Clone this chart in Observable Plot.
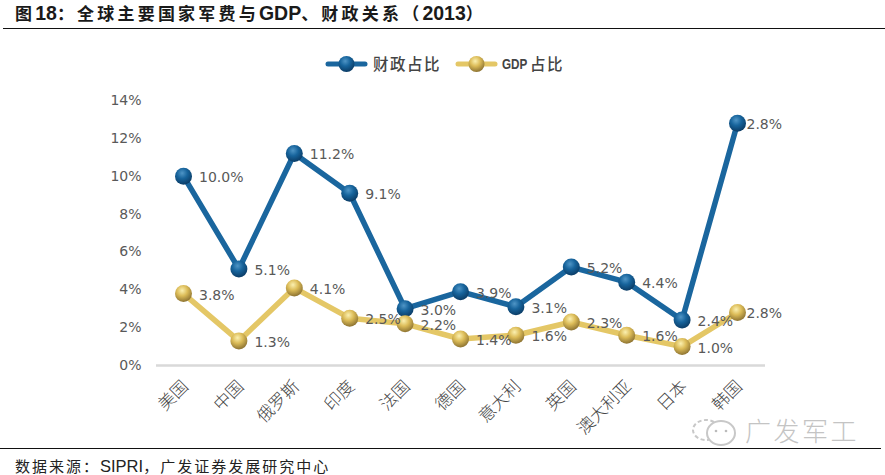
<!DOCTYPE html>
<html><head><meta charset="utf-8">
<script src="https://cdn.jsdelivr.net/npm/d3@7"></script>
<script src="https://cdn.jsdelivr.net/npm/@observablehq/plot@0.6"></script>
<style>
html,body{margin:0;padding:0;background:#fff;width:885px;height:475px;overflow:hidden;position:relative}
#title{position:absolute;left:15px;top:0;height:24px;line-height:24px;font:bold 17px "Liberation Sans","Noto Sans CJK SC";letter-spacing:3.2px;color:#1a1a1a;white-space:nowrap}
#title b{font-size:19.5px;letter-spacing:0}
#r1{position:absolute;left:3px;right:0;top:28px;border-top:1.5px solid #111}
#r2{position:absolute;left:0;width:881px;top:448px;border-top:1.5px solid #111}
#legend{position:absolute;left:0;top:29px;width:885px;height:60px}
#chart{position:absolute;left:0;top:88px}
#foot{position:absolute;left:15px;top:455px;font:15px "Liberation Sans","Noto Sans CJK SC";letter-spacing:2px;color:#222;white-space:nowrap}
#foot span{font-size:16.5px;letter-spacing:0}
#mark{position:absolute;left:0;top:0;pointer-events:none}
</style></head><body>
<svg width="0" height="0" style="position:absolute">
<defs>
<radialGradient id="ballBlue" cx="42%" cy="32%" r="70%"><stop offset="0%" stop-color="#4f95c6"/><stop offset="45%" stop-color="#17649c"/><stop offset="100%" stop-color="#0a3a63"/></radialGradient>
<radialGradient id="ballGold" cx="42%" cy="32%" r="70%"><stop offset="0%" stop-color="#fbf0b0"/><stop offset="45%" stop-color="#dcbc58"/><stop offset="100%" stop-color="#8a7030"/></radialGradient>
</defs></svg>
<div id="title">图<b>18</b>：全球主要国家军费与<b>GDP</b>、财政关系（<b>2013</b>）</div>
<div id="r1"></div>
<div id="legend"></div>
<div id="chart"></div>
<div id="r2"></div>
<div id="foot">数据来源：<span>SIPRI</span>，广发证券发展研究中心</div>
<script>
const countries = ["美国","中国","俄罗斯","印度","法国","德国","意大利","英国","澳大利亚","日本","韩国"];
const fiscal = [10.0,5.1,11.2,9.1,3.0,3.9,3.1,5.2,4.4,2.4,12.8];
const gdp = [3.8,1.3,4.1,2.5,2.2,1.4,1.6,2.3,1.6,1.0,2.8];
const fiscalLabels = ["10.0%","5.1%","11.2%","9.1%","3.0%","3.9%","3.1%","5.2%","4.4%","2.4%","2.8%"];
const gdpLabels = ["3.8%","1.3%","4.1%","2.5%","2.2%","1.4%","1.6%","2.3%","1.6%","1.0%","2.8%"];
const yTicks = [0,2,4,6,8,10,12,14];
const blue = "#1a669e", gold = "#e4c766";
const fontTxt = "DejaVu Sans";

const rows = a => countries.map((c,i)=>({c,v:a[i],i}));
const rowsF = rows(fiscal), rowsG = rows(gdp);
const lbl = (data,labels,dx) => Plot.text(data,{x:"c",y:"v",text:d=>labels[d.i],dx,dy:1.5,textAnchor:"start",fontSize:14,fill:"#595959",fontFamily:fontTxt});

const plot = Plot.plot({
  width:885,height:360,
  marginLeft:156,marginRight:120,marginTop:12,marginBottom:83,
  x:{type:"point",domain:countries,range:[183,737],padding:0,round:false,label:null},
  y:{domain:[0,14],range:[277,12],label:null},
  style:{background:"transparent",fontFamily:fontTxt},
  marks:[
    Plot.ruleY([0],{stroke:"#d9d9d9",strokeWidth:2.5}),
    Plot.axisY({ticks:yTicks,tickSize:0,tickPadding:0,dx:-15,tickFormat:d=>d+"%",fontSize:14,label:null,fill:"#595959"}),
    Plot.axisX({tickSize:0,tickRotate:-45,tickPadding:18,fontSize:17,fontFamily:"Noto Sans CJK SC",fontWeight:300,fill:"#444",label:null,dx:2}),
    Plot.line(rowsF,{x:"c",y:"v",stroke:blue,strokeWidth:5.5,curve:"linear"}),
    Plot.line(rowsG,{x:"c",y:"v",stroke:gold,strokeWidth:5.5,curve:"linear"}),
    Plot.dot(rowsF,{x:"c",y:"v",r:8.5,fill:"url(#ballBlue)"}),
    Plot.dot(rowsG,{x:"c",y:"v",r:8.5,fill:"url(#ballGold)"}),
    lbl(rowsF.slice(0,-1),fiscalLabels,15.5),
    lbl(rowsG.slice(0,-1),gdpLabels,15.5),
    lbl(rowsF.slice(-1),fiscalLabels,9),
    lbl(rowsG.slice(-1),gdpLabels,9)
  ]
});
document.getElementById("chart").append(plot);

// legend
const lg = d3.select("#legend").append("svg").attr("width",885).attr("height",60);
[{x:328,c:blue,f:"url(#ballBlue)",t:"财政占比",tx:373},{x:458,c:gold,f:"url(#ballGold)",t:"占比",tx:530}].forEach(e=>{
  lg.append("line").attr("x1",e.x).attr("x2",e.x+37).attr("y1",35).attr("y2",35).attr("stroke",e.c).attr("stroke-width",5).attr("stroke-linecap","round");
  lg.append("circle").attr("cx",e.x+18.5).attr("cy",35).attr("r",8).attr("fill",e.f);
  lg.append("text").attr("x",e.tx).attr("y",40.5).attr("font-size",15.5).attr("font-family","Noto Sans CJK SC").attr("fill","#444").attr("letter-spacing",1.5).attr("font-weight",500).text(e.t);
});
lg.append("text").attr("transform","translate(502,40) scale(0.78,1)").attr("font-size",15).attr("font-family","Liberation Sans").attr("font-weight",700).attr("fill","#444").text("GDP");

// watermark
const wm = d3.select("body").append("svg").attr("id","mark").attr("width",885).attr("height",475);
wm.append("text").attr("x",745).attr("y",441).attr("font-size",26).attr("letter-spacing",2.5).attr("font-family","Noto Sans CJK SC").attr("font-weight",300).attr("fill","#c4c4c4").text("广发军工");
wm.append("ellipse").attr("cx",706).attr("cy",430).attr("rx",13).attr("ry",10).attr("fill","none").attr("stroke","#c8c8c8").attr("stroke-width",2).attr("stroke-dasharray","4 2.5");
wm.append("ellipse").attr("cx",721).attr("cy",433).attr("rx",14).attr("ry",12).attr("fill","#fff").attr("stroke","#c8c8c8").attr("stroke-width",2);
wm.append("circle").attr("cx",716).attr("cy",431).attr("r",1.3).attr("fill","#bbb");
wm.append("circle").attr("cx",726).attr("cy",431).attr("r",1.3).attr("fill","#bbb");
</script>
</body></html>
